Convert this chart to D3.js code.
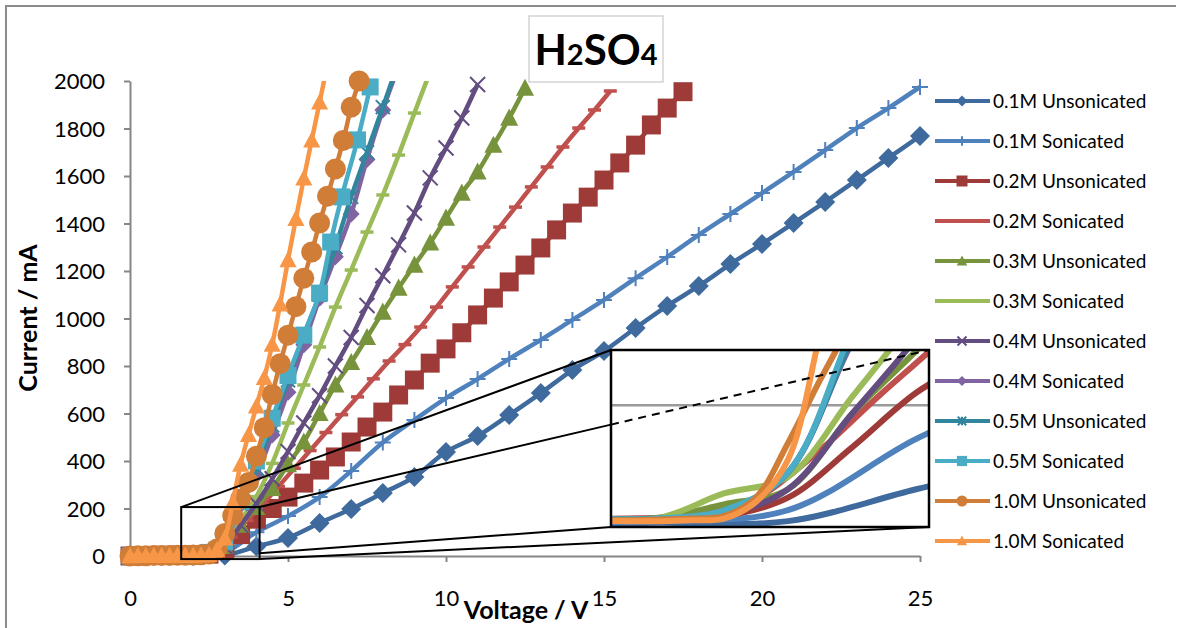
<!DOCTYPE html>
<html><head><meta charset="utf-8">
<script src="https://cdn.jsdelivr.net/npm/d3@7"></script>
<style>body{margin:0;background:#fff}svg{display:block;font-family:Lato,"Open Sans",sans-serif}</style>
</head><body>
<svg id="c" width="1180" height="628"></svg>
<script>
// ---------------- DATA ----------------
const seriesNames = ["0.1M Unsonicated","0.1M Sonicated","0.2M Unsonicated","0.2M Sonicated",
  "0.3M Unsonicated","0.3M Sonicated","0.4M Unsonicated","0.4M Sonicated",
  "0.5M Unsonicated","0.5M Sonicated","1.0M Unsonicated","1.0M Sonicated"];

const v01U = [0,1,2,3,4,5,6,7,8,9,10,11,12,13,14,15,16,17,18,19,20,21,22,23,24,25];
const i01U = [0,0,0,2,40,76,139,198,265,333,438,505,594,686,783,863,960,1053,1137,1229,1314,1402,1491,1583,1676,1768];

const v01S = [0,1,2,3,4,5,6,7,8,9,10,11,12,13,14,15,16,17,18,19,20,21,22,23,24,25];
const i01S = [0,0,2,15,100,168,248,358,478,573,665,745,830,910,994,1078,1170,1259,1352,1440,1528,1617,1709,1802,1886,1975];

const v02U = [0,0.5,1,1.5,2,2.5,3,3.5,4,4.5,5,5.5,6,6.5,7,7.5,8,8.5,9,9.5,10,10.5,11,11.5,12,12.5,13,13.5,14,14.5,15,15.5,16,16.5,17,17.5];
const i02U = [0,2,3,4,5,8,30,90,155,200,248,307,362,417,480,543,606,678,741,812,872,940,1015,1086,1154,1225,1297,1373,1444,1511,1583,1655,1730,1815,1886,1955];

const v02S = [0,0.7,1.2,1.7,2.2,2.7,3.2,3.7,4.2,4.7,5.2,5.7,6.2,6.7,7.2,7.7,8.2,8.7,9.2,9.7,10.2,10.7,11.2,11.7,12.2,12.7,13.2,13.7,14.2,14.7,15.2];
const i02S = [0,3,4,5,8,25,80,150,218,293,369,444,520,595,670,746,821,890,964,1048,1133,1217,1301,1385,1469,1554,1638,1722,1802,1878,1958];

const v03U = [0,0.5,1,1.5,2,2.5,3,3.5,4,4.5,5,5.5,6,6.5,7,7.5,8,8.5,9,9.5,10,10.5,11,11.5,12,12.5];
const i03U = [0,2,3,4,6,22,40,130,205,285,385,480,600,720,815,920,1027,1128,1225,1318,1423,1528,1617,1730,1844,1970];

const v03S = [0,0.5,1,1.5,2,2.5,3,3.5,4,4.5,5,5.5,6,6.5,7,7.5,8,8.5,9,9.5];
const i03S = [0,2,3,5,6,35,55,150,250,390,560,720,880,1048,1204,1364,1520,1688,1865,2040];

const v04U = [0,0.5,1,1.5,2,2.5,3,3.5,4,4.5,5,5.5,6,6.5,7,7.5,8,8.5,9,9.5,10,10.5,11];
const i04U = [0,1,2,3,4,10,40,130,220,325,440,560,675,800,920,1055,1180,1310,1444,1592,1718,1844,1985];

const v04S = [0,0.5,1,1.5,2,2.5,3,3.5,4,4.5,5,5.5,6,6.5,7,7.5,8,8.5];
const i04S = [0,1,2,3,4,12,60,215,340,510,690,890,1085,1260,1440,1670,1878,2060];

const v05U = [0,0.5,1,1.5,2,2.5,3,3.5,4,4.5,5,5.5,6,6.5,7,7.5,8,8.5];
const i05U = [0,2,3,4,5,12,60,220,370,550,740,930,1100,1300,1512,1700,1890,2080];

const v05S = [0,0.5,1,1.5,2,2.5,3,3.5,4,4.5,5,5.5,6,6.35,6.7,7.2,7.6];
const i05S = [0,3,4,4,5,15,60,230,400,580,760,930,1107,1322,1512,1752,1975];

const v10U = [0,0.25,0.5,0.75,1,1.25,1.5,1.75,2,2.25,2.5,2.75,3,3.25,3.5,3.75,4,4.25,4.5,4.75,5,5.25,5.5,5.75,6,6.25,6.5,6.75,7,7.25];
const i10U = [0,1,1,2,2,2,3,3,4,5,8,30,95,170,240,310,420,540,680,810,930,1050,1170,1280,1402,1515,1630,1750,1890,2000];

const v10S = [0,0.25,0.5,0.75,1,1.25,1.5,1.75,2,2.25,2.5,2.75,3,3.25,3.5,3.75,4,4.25,4.5,4.75,5,5.25,5.5,5.75,6,6.25];
const i10S = [0,1,1,1,1,1,2,2,2,3,5,25,75,225,385,510,630,750,890,1060,1246,1420,1590,1750,1910,2070];

const xTicks = [0,5,10,15,20,25];
const yTicks = [0,200,400,600,800,1000,1200,1400,1600,1800,2000];
const zoomV = [1.62, 4.1];      // magnified region, voltage
const zoomI = [-13, 206];       // magnified region, current (main chart)
const insetI = [-5, 206];       // current range shown in the inset
const insetGrid = [140];

// ---------------- STYLES ----------------
const colors = ["#3F6A9E","#4F81BD","#9E3B39","#C0504D","#77933C","#9BBB59",
                "#634D80","#8064A2","#31859C","#4BACC6","#D07D38","#F79646"];
const markerTypes = ["diamond","plus","square","dash","triangle","dash","x","diamond","star","square","circle","triangle"];
const markerSizes = [20,16,19,13,19,13,15,17,14,17,21,18];

const vs = [v01U,v01S,v02U,v02S,v03U,v03S,v04U,v04S,v05U,v05S,v10U,v10S];
const is = [i01U,i01S,i02U,i02S,i03U,i03S,i04U,i04S,i05U,i05S,i10U,i10S];
const series = seriesNames.map((n,k)=>({name:n, color:colors[k], mt:markerTypes[k], ms:markerSizes[k],
  pts: vs[k].map((v,j)=>({v, i:is[k][j]}))}));

const svg = d3.select("#c");
const x = d3.scaleLinear().domain([0,25]).range([130,920]);
const y = d3.scaleLinear().domain([0,2000]).range([556,81]);

function markerPath(t, s){
  const r = s/2;
  switch(t){
    case "diamond": return `M0,${-r}L${r},0L0,${r}L${-r},0Z`;
    case "square": return `M${-r},${-r}h${s}v${s}h${-s}Z`;
    case "triangle": return `M0,${-r}L${r*0.95},${r*0.8}L${-r*0.95},${r*0.8}Z`;
    case "circle": return d3.symbol(d3.symbolCircle, Math.PI*r*r)();
    case "plus": return `M${-r},0H${r}M0,${-r}V${r}`;
    case "x": return `M${-r},${-r}L${r},${r}M${-r},${r}L${r},${-r}`;
    case "star": return `M${-r},${-r}L${r},${r}M${-r},${r}L${r},${-r}M0,${-r}V${r}`;
    case "dash": return `M${-r},0H${r}`;
  }
}
const filled = t => ["diamond","square","triangle","circle"].includes(t);
function styleMarker(sel, d){
  if (filled(d.mt)) sel.attr("fill", d.color).attr("stroke","none");
  else sel.attr("fill","none").attr("stroke", d.color).attr("stroke-width", d.mt==="dash"?3.5:2);
}

// outer frame
svg.append("path").attr("d","M6,640V6H1176").attr("fill","none").attr("stroke","#8c8c8c").attr("stroke-width",2);

// clip for lines
const defs = svg.append("defs");
defs.append("clipPath").attr("id","plotClip").append("rect")
  .attr("x",x(0)).attr("y",y(2000)).attr("width",x(25)-x(0)).attr("height",620-y(2000));

// axes
const yAxis = svg.append("g").attr("transform",`translate(${x(0)},0)`)
  .call(d3.axisLeft(y).tickValues(yTicks).tickFormat(d3.format("d")).tickSize(6).tickSizeOuter(0).tickPadding(19));
const xAxis = svg.append("g").attr("transform",`translate(0,${y(0)})`)
  .call(d3.axisBottom(x).tickValues(xTicks).tickFormat(d3.format("d")).tickSize(6).tickSizeOuter(0).tickPadding(28));
[yAxis,xAxis].forEach(g=>{
  g.select(".domain").attr("stroke","#868686").attr("stroke-width",2);
  g.selectAll(".tick line").attr("stroke","#868686").attr("stroke-width",2);
  g.selectAll(".tick text").attr("fill","#000").style("font-family","Lato").style("font-size","22px");
});
yAxis.selectAll(".tick text").attr("dy","0.36em");

// series
const line = d3.line().x(d=>x(d.v)).y(d=>y(d.i)).curve(d3.curveCatmullRom.alpha(0.5));
const gLines = svg.append("g");
series.forEach(s=>{
  const g = gLines.append("g");
  g.append("path").attr("d", line(s.pts)).attr("fill","none").attr("stroke", s.color)
    .attr("stroke-width",4.5).attr("clip-path","url(#plotClip)");
  g.selectAll("path.m").data(s.pts.filter(p=>p.i<=2000).map(p=>Object.assign({},p,{mt:s.mt,color:s.color,ms:s.ms})))
    .join("path").attr("class","m")
    .attr("transform", d=>`translate(${x(d.v)},${y(d.i)})`)
    .attr("d", d=>markerPath(d.mt, d.ms))
    .each(function(d){ styleMarker(d3.select(this), d); });
});

// magnifier: small rect, connecting lines, inset
const sx0 = x(zoomV[0]), sx1 = x(zoomV[1]), sy0 = y(zoomI[1]), sy1 = y(zoomI[0]);
const ix0 = 611, ix1 = 929, iy0 = 350, iy1 = 527;
const xi = d3.scaleLinear().domain(zoomV).range([ix0, ix1]);
const yi = d3.scaleLinear().domain(insetI).range([iy1, iy0]);

const gz = svg.append("g").attr("stroke","#000").attr("stroke-width",2).attr("fill","none");
gz.append("rect").attr("x",sx0).attr("y",sy0).attr("width",sx1-sx0).attr("height",sy1-sy0);
gz.append("line").attr("x1",sx0).attr("y1",sy0).attr("x2",ix0).attr("y2",iy0);
const tAtEdge = (ix0 - sx1)/(ix1 - sx1);
const yEdge = sy0 + tAtEdge*(iy0 - sy0);
gz.append("line").attr("x1",sx1).attr("y1",sy0).attr("x2",ix0).attr("y2",yEdge);
const tb = (sx1 - sx0)/(ix0 - sx0);
gz.append("line").attr("x1",sx1).attr("y1",sy1 + tb*(iy1 - sy1)).attr("x2",ix0).attr("y2",iy1);
gz.append("line").attr("x1",sx1).attr("y1",sy1).attr("x2",ix1).attr("y2",iy1);

defs.append("clipPath").attr("id","insetClip").append("rect")
  .attr("x",ix0).attr("y",iy0).attr("width",ix1-ix0).attr("height",iy1-iy0);
const gi = svg.append("g");
gi.append("rect").attr("x",ix0).attr("y",iy0).attr("width",ix1-ix0).attr("height",iy1-iy0).attr("fill","#fff");
const gInner = gi.append("g").attr("clip-path","url(#insetClip)");
insetGrid.forEach(g=>gInner.append("line").attr("x1",ix0).attr("x2",ix1).attr("y1",yi(g)).attr("y2",yi(g))
  .attr("stroke","#9a9a9a").attr("stroke-width",2.5));
const iline = d3.line().x(d=>xi(d.v)).y(d=>yi(d.i)).curve(d3.curveCatmullRom.alpha(0.5));
series.forEach(s=>{
  gInner.append("path").attr("d", iline(s.pts)).attr("fill","none").attr("stroke",s.color).attr("stroke-width",6);
});
gi.append("rect").attr("x",ix0).attr("y",iy0).attr("width",ix1-ix0).attr("height",iy1-iy0)
  .attr("fill","none").attr("stroke","#000").attr("stroke-width",2.5);
gi.append("line").attr("x1",ix0).attr("y1",yEdge).attr("x2",ix1).attr("y2",iy0)
  .attr("stroke","#000").attr("stroke-width",2).attr("stroke-dasharray","8,6");

// legend
const lg = svg.append("g");
series.forEach((s,k)=>{
  const yy = 101 + k*40;
  lg.append("line").attr("x1",935).attr("x2",990).attr("y1",yy).attr("y2",yy).attr("stroke",s.color).attr("stroke-width",4);
  const m = lg.append("path").attr("transform",`translate(962,${yy})`).attr("d", markerPath(s.mt, Math.min(s.ms*0.6,11)));
  styleMarker(m, s);
  lg.append("text").attr("x",993).attr("y",yy).attr("dy","0.35em").style("font-size","19px").text(s.name);
});

// title
svg.append("rect").attr("x",529).attr("y",16).attr("width",134).attr("height",66).attr("fill","#fff").attr("stroke","#d4d4d4").attr("stroke-width",1.5);
const tt = svg.append("text").attr("x",596).attr("y",65).attr("text-anchor","middle").style("font-weight","bold").style("font-size","42px");
tt.append("tspan").text("H");
tt.append("tspan").style("font-size","29px").text("2");
tt.append("tspan").text("SO");
tt.append("tspan").style("font-size","29px").text("4");

// axis titles
svg.append("text").attr("x",526).attr("y",619).attr("text-anchor","middle").style("font-weight","bold").style("font-size","25px").text("Voltage / V");
svg.append("text").attr("transform","translate(37,318) rotate(-90)").attr("text-anchor","middle").style("font-weight","bold").style("font-size","25px").text("Current / mA");
</script>
</body></html>
